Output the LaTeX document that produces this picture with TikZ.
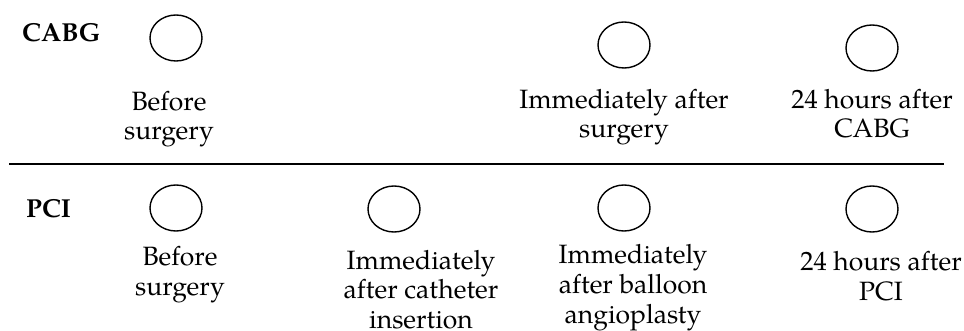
\documentclass[tikz,border=0pt]{standalone}
\usepackage{fontspec}
\setmainfont{TeX Gyre Pagella}
\usetikzlibrary{shapes.geometric}
\begin{document}
\begin{tikzpicture}[x=1pt,y=-1pt,
  ring/.style={draw,ellipse,line width=1.4pt,minimum width=52pt,minimum height=46pt,inner sep=0pt},
  lbl/.style={align=center,anchor=base,font=\fontsize{26.5}{29.5}\selectfont,inner sep=0pt},
  grp/.style={anchor=base west,font=\fontsize{26}{30}\selectfont\bfseries,inner sep=0pt}]
\useasboundingbox (0,0) rectangle (964,331);
\node[grp] (cabg) at (22,42) {CABG};
\node[grp] (pci) at (26,218) {PCI};
\node[ring] (c1) at (176,38) {};
\node[ring] (c2) at (624,45) {};
\node[ring] (c3) at (872,48) {};
\node[ring] (p1) at (176,208) {};
\node[ring] (p2) at (394,209) {};
\node[ring] (p3) at (624,208) {};
\node[ring] (p4) at (872,209) {};
\node[lbl] (l1) at (169,140) {Before\\surgery};
\node[lbl] (l2) at (624,138) {Immediately after\\surgery};
\node[lbl] (l3) at (872,138) {24 hours after\\CABG};
\node[lbl] (m1) at (180,295) {Before\\surgery};
\node[lbl] (m2) at (421,328) {Immediately\\after catheter\\insertion};
\node[lbl] (m3) at (633,323) {Immediately\\after balloon\\angioplasty};
\node[lbl] (m4) at (881,300) {24 hours after\\PCI};
\coordinate (ra) at (9,164);
\coordinate (rb) at (944,164);
\draw[line width=2.6pt] (ra) -- (rb);
\end{tikzpicture}
\end{document}
